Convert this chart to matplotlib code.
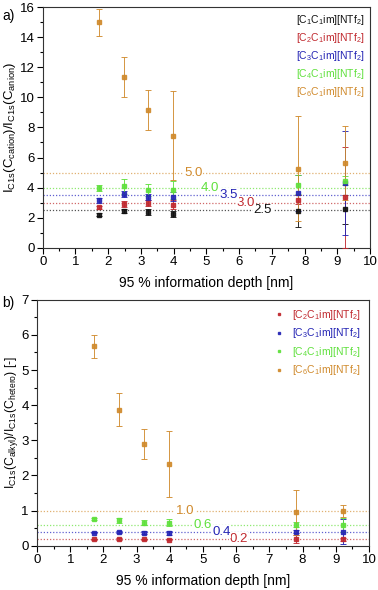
import numpy as np
import matplotlib
matplotlib.use("Agg")
import matplotlib.pyplot as plt
from matplotlib.lines import Line2D

plt.rcParams['font.family'] = ['Liberation Sans', 'DejaVu Sans']
plt.rcParams['mathtext.fontset'] = 'custom'
plt.rcParams['mathtext.rm'] = 'Liberation Sans'
plt.rcParams['mathtext.it'] = 'Liberation Sans:italic'

# information depths (nm)
depth = [1.72, 2.47, 3.22, 3.97, 7.80, 9.22]

# panel a: C_cation / C_anion
a_names = ["[C$_1$C$_1$im][NTf$_2$]", "[C$_2$C$_1$im][NTf$_2$]", "[C$_3$C$_1$im][NTf$_2$]",
           "[C$_4$C$_1$im][NTf$_2$]", "[C$_6$C$_1$im][NTf$_2$]"]
a_c1 = [2.20, 2.45, 2.35, 2.25, 2.45, 2.55]
a_c1_err = [0.10, 0.15, 0.20, 0.20, 1.05, 0.95]
a_c2 = [2.70, 2.90, 2.95, 2.85, 3.20, 3.35]
a_c2_err = [0.10, 0.20, 0.20, 0.30, 0.30, 3.35]
a_c3 = [3.15, 3.60, 3.40, 3.40, 3.65, 4.30]
a_c3_err = [0.15, 0.20, 0.20, 0.30, 1.20, 3.45]
a_c4 = [3.95, 4.10, 3.85, 3.85, 4.20, 4.45]
a_c4_err = [0.20, 0.50, 0.40, 0.60, 0.65, 0.30]
a_c6 = [15.0, 11.35, 9.15, 7.45, 5.25, 5.65]
a_c6_err = [0.90, 1.35, 1.35, 2.95, 3.50, 2.45]
a_ref = [2.5, 3.0, 3.5, 4.0, 5.0]
a_ref_x = [6.72, 6.20, 5.69, 5.12, 4.60]

# panel b: C_alkyl / C_hetero
b_names = a_names[1:]
b_c2 = [0.18, 0.19, 0.18, 0.17, 0.20, 0.18]
b_c2_err = [0.02, 0.02, 0.02, 0.02, 0.12, 0.05]
b_c3 = [0.37, 0.39, 0.37, 0.37, 0.40, 0.40]
b_c3_err = [0.02, 0.03, 0.04, 0.06, 0.05, 0.35]
b_c4 = [0.76, 0.72, 0.66, 0.65, 0.60, 0.60]
b_c4_err = [0.04, 0.08, 0.06, 0.10, 0.08, 0.20]
b_c6 = [5.67, 3.87, 2.90, 2.33, 0.95, 0.98]
b_c6_err = [0.33, 0.47, 0.43, 0.93, 0.65, 0.17]
b_ref = [0.2, 0.4, 0.6, 1.0]
b_ref_x = [6.07, 5.55, 5.00, 4.45]

cols = ["#111111", "#c0282e", "#2424b4", "#5fe03c", "#d08a2c"]
ref_cols = ["#555555", "#d06868", "#6060d0", "#8ee870", "#e0b070"]

fig = plt.figure(figsize=(3.78, 5.90), dpi=100)
ax1 = fig.add_axes([0.113, 0.580, 0.866, 0.408])
ax2 = fig.add_axes([0.098, 0.075, 0.878, 0.417])


def style(ax, ymax, ystep):
    ax.set_xlim(0, 10)
    ax.set_ylim(0, ymax)
    ax.set_xticks(np.arange(0, 11, 1))
    ax.set_xticks(np.arange(0.5, 10, 1), minor=True)
    ax.set_yticks(np.arange(0, ymax + 0.01, ystep))
    ax.set_yticks(np.arange(ystep / 2, ymax, ystep), minor=True)
    ax.tick_params(which='major', length=4, width=0.8, labelsize=9.5, direction='out', pad=2)
    ax.tick_params(which='minor', length=2.5, width=0.8, direction='out')
    for s in ax.spines.values():
        s.set_linewidth(0.8)
        s.set_color("#333333")
    ax.set_xlabel("95 % information depth [nm]", fontsize=10, labelpad=6)


# --- panel a ---
series_a = [(a_c1, a_c1_err), (a_c2, a_c2_err), (a_c3, a_c3_err), (a_c4, a_c4_err), (a_c6, a_c6_err)]
for k, (r, tx) in enumerate(zip(a_ref, a_ref_x)):
    ax1.axhline(r, color=ref_cols[k], ls=(0, (1, 1.5)), lw=0.9, zorder=1)
    ax1.text(tx, r, f"{r:.1f}", color=cols[k], fontsize=9.5, ha='center', va='center',
             bbox=dict(facecolor='white', edgecolor='none', pad=0.5), zorder=2)
for k, (y, e) in enumerate(series_a):
    ax1.errorbar(depth, y, yerr=e, fmt='s', ms=2.8, color=cols[k], ecolor=cols[k],
                 elinewidth=0.7, capsize=2.5, capthick=0.7, alpha=0.9, zorder=3)
style(ax1, 16, 2)
ax1.set_ylabel(r"I$_{\mathrm{C1s}}$(C$_{\mathrm{cation}}$)/I$_{\mathrm{C1s}}$(C$_{\mathrm{anion}}$)",
               fontsize=9.5, labelpad=1)
blank = [Line2D([], [], ls='none', marker=None) for _ in a_names]
leg1 = ax1.legend(blank, a_names, loc='upper right', frameon=False, fontsize=7.5,
                  handlelength=0, handletextpad=0, markerfirst=False,
                  labelspacing=0.38, borderaxespad=0.15)
for t, c in zip(leg1.get_texts(), cols):
    t.set_color(c)
fig.text(0.005, 0.985, "a)", fontsize=10, va='top')

# --- panel b ---
series_b = [(b_c2, b_c2_err), (b_c3, b_c3_err), (b_c4, b_c4_err), (b_c6, b_c6_err)]
cols_b = cols[1:]
ref_cols_b = ref_cols[1:]
for k, (r, tx) in enumerate(zip(b_ref, b_ref_x)):
    ax2.axhline(r, color=ref_cols_b[k], ls=(0, (1, 1.5)), lw=0.9, zorder=1)
    ax2.text(tx, r, f"{r:.1f}", color=cols_b[k], fontsize=9.5, ha='center', va='center',
             bbox=dict(facecolor='white', edgecolor='none', pad=0.5), zorder=2)
handles_b = []
for k, (y, e) in enumerate(series_b):
    h = ax2.errorbar(depth, y, yerr=e, fmt='s', ms=2.8, color=cols_b[k], ecolor=cols_b[k],
                     elinewidth=0.7, capsize=2.5, capthick=0.7, alpha=0.9, zorder=3)
    handles_b.append(h[0])
style(ax2, 7, 1)
ax2.set_ylabel(r"I$_{\mathrm{C1s}}$(C$_{\mathrm{alkyl}}$)/I$_{\mathrm{C1s}}$(C$_{\mathrm{hetero}}$) [-]",
               fontsize=8.8, labelpad=1)
leg2 = ax2.legend(handles_b, b_names, loc='upper right', frameon=False, fontsize=7.5,
                  handlelength=1.2, handletextpad=0.6, labelspacing=0.42, borderaxespad=0.4,
                  markerscale=0.7)
for t, c in zip(leg2.get_texts(), cols_b):
    t.set_color(c)
fig.text(0.005, 0.498, "b)", fontsize=10, va='top')

fig.savefig("out.png", dpi=100)
